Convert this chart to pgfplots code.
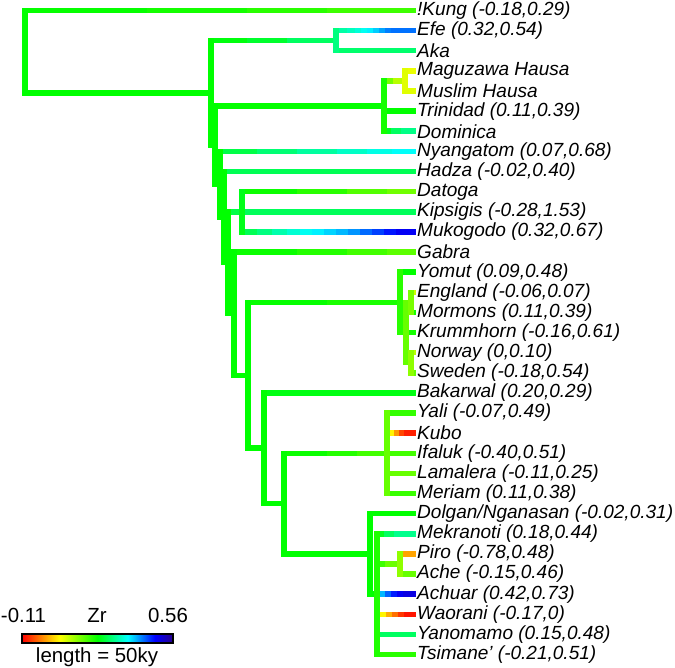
\documentclass[border=0pt]{standalone}
\usepackage{pgfplots}
\pgfplotsset{compat=1.18}
\usepackage{fontspec}
\setmainfont{Liberation Sans}
\newcommand{\br}[1]{\addplot[mesh, line width=5.5bp, line cap=rect, point meta=explicit] coordinates {#1};}
\newcommand{\lab}[2]{\node[anchor=west, inner sep=0pt, font=\fontsize{19.1}{20}\selectfont\itshape] at (axis cs:417,#1) {#2};}
\begin{document}
\begin{tikzpicture}
\useasboundingbox (0,0) rectangle (675bp,668bp);
\begin{axis}[
  at={(0,0)}, anchor=south west,
  scale only axis, width=675bp, height=668bp,
  xmin=0, xmax=675, ymin=0, ymax=668, y dir=reverse,
  hide axis, clip=false,
  colormap={zr}{rgb255(0cm)=(255,0,0) rgb255(25cm)=(255,255,0) rgb255(50cm)=(0,255,0) rgb255(70cm)=(0,255,255) rgb255(88cm)=(0,0,255) rgb255(100cm)=(40,0,140)},
  point meta min=0, point meta max=1,
  colorbar horizontal,
  colorbar style={at={(22bp,34bp)}, anchor=south west, width=151bp, height=9bp, scale only axis, xtick=\empty, ytick=\empty, axis line style={line width=2bp, black}},
]
% horizontal branches
\br{(25,10.5)[0.5] (150,10.5)[0.49] (250,10.5)[0.47] (330,10.5)[0.45] (413,10.5)[0.43]}
\br{(25,92.9)[0.5] (211,92.9)[0.5]}
\br{(211,40.7)[0.5] (250,40.7)[0.52] (290,40.7)[0.55] (336,40.7)[0.6]}
\br{(336,30.6)[0.62] (350,30.6)[0.64] (358,30.6)[0.66] (364,30.6)[0.68] (370,30.6)[0.7] (376,30.6)[0.72] (382,30.6)[0.75] (388,30.6)[0.78] (394,30.6)[0.8] (413,30.6)[0.8]}
\br{(336,50.75)[0.6] (413,50.75)[0.57]}
\br{(211,145.2)[0.5] (215,145.2)[0.5]}
\br{(215,106.1)[0.5] (384,106.1)[0.49]}
\br{(384,81)[0.47] (390,81)[0.42] (396,81)[0.35] (405,81)[0.29]}
\br{(405,70.9)[0.27] (413,70.9)[0.27]}
\br{(405,91)[0.28] (413,91)[0.28]}
\br{(384,111.1)[0.5] (413,111.1)[0.5]}
\br{(384,131.25)[0.5] (394,131.25)[0.55] (404,131.25)[0.6] (413,131.25)[0.61]}
\br{(215,184.2)[0.5] (220,184.2)[0.5]}
\br{(220,151.4)[0.54] (260,151.4)[0.57] (300,151.4)[0.61] (340,151.4)[0.64] (370,151.4)[0.67] (395,151.4)[0.69] (413,151.4)[0.7]}
\br{(220,217.1)[0.5] (224,217.1)[0.5]}
\br{(224,171.5)[0.55] (413,171.5)[0.58]}
\br{(224,262.7)[0.5] (228,262.7)[0.5]}
\br{(228,211.75)[0.55] (242,211.75)[0.56]}
\br{(242,191.6)[0.5] (300,191.6)[0.48] (350,191.6)[0.44] (390,191.6)[0.4] (413,191.6)[0.38]}
\br{(242,211.75)[0.56] (413,211.75)[0.58]}
\br{(242,231.9)[0.55] (260,231.9)[0.58] (275,231.9)[0.62] (290,231.9)[0.65] (303,231.9)[0.68] (315,231.9)[0.7] (327,231.9)[0.72] (339,231.9)[0.74] (351,231.9)[0.76] (363,231.9)[0.79] (375,231.9)[0.82] (387,231.9)[0.85] (399,231.9)[0.88] (413,231.9)[0.9]}
\br{(228,313.6)[0.5] (234,313.6)[0.5]}
\br{(234,252)[0.5] (300,252)[0.48] (350,252)[0.45] (390,252)[0.42] (413,252)[0.4]}
\br{(234,375.3)[0.5] (248,375.3)[0.5]}
\br{(248,302.3)[0.5] (330,302.3)[0.49] (400,302.3)[0.46]}
\br{(400,272.1)[0.5] (413,272.1)[0.5]}
\br{(400,332.5)[0.43] (406,332.5)[0.42]}
\br{(406,302.3)[0.38] (411,302.3)[0.38]}
\br{(411,292.25)[0.3] (413,292.25)[0.3]}
\br{(411,312.4)[0.48] (413,312.4)[0.48]}
\br{(406,332.5)[0.48] (413,332.5)[0.48]}
\br{(406,362.7)[0.38] (411,362.7)[0.38]}
\br{(411,352.6)[0.32] (413,352.6)[0.32]}
\br{(411,372.75)[0.4] (413,372.75)[0.4]}
\br{(248,448.2)[0.5] (264,448.2)[0.5]}
\br{(264,392.9)[0.5] (413,392.9)[0.53]}
\br{(264,503.6)[0.5] (284,503.6)[0.5]}
\br{(284,453.25)[0.5] (330,453.25)[0.48] (360,453.25)[0.45] (387,453.25)[0.42]}
\br{(387,413)[0.43] (413,413)[0.47]}
\br{(387,433.1)[0.38] (392,433.1)[0.28] (397,433.1)[0.2] (402,433.1)[0.1] (407,433.1)[0.04] (413,433.1)[0.02]}
\br{(387,453.25)[0.42] (413,453.25)[0.45]}
\br{(387,473.4)[0.4] (413,473.4)[0.4]}
\br{(387,493.5)[0.42] (413,493.5)[0.47]}
\br{(284,553.9)[0.5] (370,553.9)[0.5]}
\br{(370,513.6)[0.5] (413,513.6)[0.5]}
\br{(370,594.1)[0.5] (377,594.1)[0.5]}
\br{(377,533.75)[0.5] (387,533.75)[0.55] (397,533.75)[0.6] (413,533.75)[0.62]}
\br{(377,564)[0.46] (388,564)[0.42] (400,564)[0.37]}
\br{(400,553.9)[0.28] (404,553.9)[0.17] (413,553.9)[0.15]}
\br{(400,574)[0.38] (413,574)[0.42]}
\br{(377,594.1)[0.66] (382,594.1)[0.72] (388,594.1)[0.78] (394,594.1)[0.84] (400,594.1)[0.88] (406,594.1)[0.9] (413,594.1)[0.92]}
\br{(377,614.25)[0.38] (383,614.25)[0.28] (389,614.25)[0.2] (395,614.25)[0.14] (401,614.25)[0.08] (407,614.25)[0.03] (413,614.25)[0.01]}
\br{(377,634.4)[0.55] (413,634.4)[0.6]}
\br{(377,654.5)[0.5] (413,654.5)[0.42]}
% vertical connectors
\br{(25,10.5)[0.5] (25,92.9)[0.5]}
\br{(211,40.7)[0.5] (211,145.2)[0.5]}
\br{(215,106.1)[0.5] (215,184.2)[0.5]}
\br{(220,151.4)[0.5] (220,217.1)[0.5]}
\br{(224,171.5)[0.5] (224,262.7)[0.5]}
\br{(228,211.75)[0.5] (228,313.6)[0.5]}
\br{(234,252)[0.5] (234,375.3)[0.5]}
\br{(248,302.3)[0.5] (248,448.2)[0.5]}
\br{(264,392.9)[0.5] (264,503.6)[0.5]}
\br{(284,453.25)[0.5] (284,553.9)[0.5]}
\br{(336,30.6)[0.6] (336,50.75)[0.6]}
\br{(384,81)[0.48] (384,131.25)[0.48]}
\br{(405,70.9)[0.28] (405,91)[0.28]}
\br{(242,191.6)[0.52] (242,231.9)[0.52]}
\br{(400,272.1)[0.46] (400,332.5)[0.46]}
\br{(406,302.3)[0.4] (406,362.7)[0.4]}
\br{(411,292.25)[0.38] (411,312.4)[0.38]}
\br{(411,352.6)[0.36] (411,372.75)[0.36]}
\br{(387,413)[0.4] (387,493.5)[0.4]}
\br{(370,513.6)[0.5] (370,594.1)[0.5]}
\br{(377,533.75)[0.47] (377,654.5)[0.47]}
\br{(400,553.9)[0.36] (400,574)[0.36]}
% labels
\lab{10.5}{!Kung (-0.18,0.29)}
\lab{30.6}{Efe (0.32,0.54)}
\lab{50.75}{Aka}
\lab{70.9}{Maguzawa Hausa}
\lab{91}{Muslim Hausa}
\lab{111.1}{Trinidad (0.11,0.39)}
\lab{131.25}{Dominica}
\lab{151.4}{Nyangatom (0.07,0.68)}
\lab{171.5}{Hadza (-0.02,0.40)}
\lab{191.6}{Datoga}
\lab{211.75}{Kipsigis (-0.28,1.53)}
\lab{231.9}{Mukogodo (0.32,0.67)}
\lab{252}{Gabra}
\lab{272.1}{Yomut (0.09,0.48)}
\lab{292.25}{England (-0.06,0.07)}
\lab{312.4}{Mormons (0.11,0.39)}
\lab{332.5}{Krummhorn (-0.16,0.61)}
\lab{352.6}{Norway (0,0.10)}
\lab{372.75}{Sweden (-0.18,0.54)}
\lab{392.9}{Bakarwal (0.20,0.29)}
\lab{413}{Yali (-0.07,0.49)}
\lab{433.1}{Kubo}
\lab{453.25}{Ifaluk (-0.40,0.51)}
\lab{473.4}{Lamalera (-0.11,0.25)}
\lab{493.5}{Meriam (0.11,0.38)}
\lab{513.6}{Dolgan/Nganasan (-0.02,0.31)}
\lab{533.75}{Mekranoti (0.18,0.44)}
\lab{553.9}{Piro (-0.78,0.48)}
\lab{574}{Ache (-0.15,0.46)}
\lab{594.1}{Achuar (0.42,0.73)}
\lab{614.25}{Waorani (-0.17,0)}
\lab{634.4}{Yanomamo (0.15,0.48)}
\lab{654.5}{Tsimane' (-0.21,0.51)}
% colorbar labels
\node[font=\fontsize{20.5}{22}\selectfont] at (axis cs:23.5,615) {-0.11};
\node[font=\fontsize{20.5}{22}\selectfont] at (axis cs:97,615) {Zr};
\node[font=\fontsize{20.5}{22}\selectfont] at (axis cs:168,615) {0.56};
\node[font=\fontsize{20.5}{22}\selectfont] at (axis cs:97,657) {length = 50ky};
\end{axis}
\end{tikzpicture}
\end{document}
